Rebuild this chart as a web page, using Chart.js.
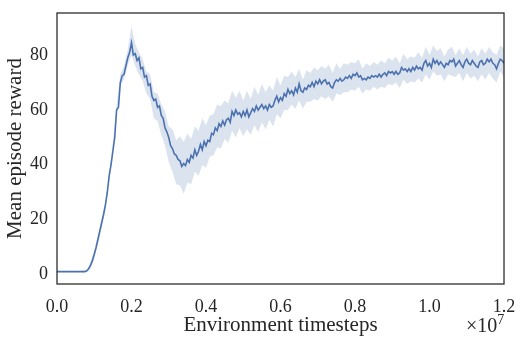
<!DOCTYPE html>
<html>
<head>
<meta charset="utf-8">
<script src="https://cdn.jsdelivr.net/npm/chart.js@4.4.1/dist/chart.umd.min.js"></script>
<style>
  html, body { margin: 0; padding: 0; background: #fff; }
  #wrap { width: 521px; height: 342px; }
</style>
</head>
<body>
<div id="wrap"><canvas id="chart"></canvas></div>
<script>
// mean reward, one value every 5e4 timesteps (0 .. 1.2e7)
const meanReward = [
  0.2, 0.2, 0.2, 0.2, 0.2, 0.2, 0.2, 0.2, 0.2, 0.2, 0.2, 0.2, 0.2, 0.2, 0.2, 0.2, 0.5, 1.2, 2.5, 4.2,
  6.5, 9, 12, 15, 18, 21, 24.5, 29, 35, 39, 44, 49, 59, 60, 69, 71.5, 72, 75, 78, 80,
  83.5, 79, 79.5, 77, 78, 74, 74.5, 71, 71.5, 68, 68.5, 64, 62.5, 63, 60, 60.5, 57, 56, 52.5, 51,
  49, 46, 45, 43, 42.5, 41, 40.5, 38.5, 39.5, 38.8, 41, 40, 42.5, 41.5, 44.5, 42.5, 44, 46.5, 44.5, 47.5,
  46, 48, 47.5, 50.5, 50, 52.5, 51.5, 54, 53, 55, 53.5, 55.5, 56, 54.5, 58.5, 57, 59, 57.5, 58, 56.5,
  58.5, 57, 59, 56.5, 58, 59.5, 58.5, 60.5, 59, 60, 61, 59.5, 60.5, 59, 61, 60, 60.5, 62.5, 64, 62,
  63.5, 62.5, 65, 64, 66.5, 65, 66, 64.5, 67, 65.5, 68.5, 66, 65.5, 67, 66.5, 68, 67.5, 69, 67.5, 69.5,
  68.5, 70, 68.5, 69.5, 70, 68.5, 69, 67.5, 67, 69, 70, 69.5, 70.5, 69.5, 70, 71, 70.5, 71.5, 70.5, 72,
  71.5, 72.5, 71, 71.5, 70, 70.5, 70, 71, 70.5, 71.5, 71, 71.5, 71, 72, 71, 72, 72.5, 71.5, 73, 72.5,
  73, 72, 73, 72, 72.5, 74.5, 73.5, 74, 73, 74, 73, 74.5, 73.5, 75, 74, 74.5, 73.5, 76, 77, 75,
  76, 74.5, 77.5, 76, 77, 75.5, 76.5, 75.5, 74.5, 76, 75.5, 77, 76.5, 77.5, 75, 76, 77, 75.5, 74.5, 76.5,
  77.5, 76, 75.5, 77, 76, 75, 74.5, 76.5, 77, 75.5, 76, 77.5, 76.5, 77.5, 76, 75.5, 74, 76, 77.5, 77,
  76
];
// spread band, one value every 1e5 timesteps
const lowerBand = [
  0, 0, 0, 0, 0, 0, 0, 0, 0.2, 1.5,
  5, 10.5, 16.5, 22.5, 32.5, 44.5, 57, 68, 70, 75.5,
  79, 75, 72, 69.5, 65, 63, 56, 55, 50, 46,
  40, 36.5, 32, 31.5, 28.5, 32.5, 32, 36.5, 35, 39,
  38, 42, 42.5, 45.5, 45, 48.5, 47, 51.5, 49, 52.5,
  49.5, 52, 50, 53.5, 51, 54.5, 52, 55.5, 53, 57.5,
  56, 59, 59, 61, 59.5, 62.5, 59.5, 62, 62, 63,
  62.5, 64, 63, 64, 62, 65, 64.5, 65.5, 65.5, 66.5,
  66, 67.5, 65, 66.5, 66, 67.5, 66.5, 67.5, 67, 68.5,
  68, 69, 67, 70, 68.5, 69.5, 69, 70.5, 69, 72,
  70, 73, 71.5, 72, 69.5, 72, 71.5, 71, 72.5, 69.5,
  72.5, 70.5, 71.5, 69.5, 72, 70, 72.5, 70.5, 69, 73,
  71
];
const upperBand = [
  0.4, 0.4, 0.4, 0.4, 0.4, 0.4, 0.4, 0.6, 1.0, 3.5,
  8, 13.5, 19.5, 25.5, 35.5, 47.5, 61, 72, 75, 81,
  89.5, 83, 80, 77.5, 73, 72, 65.5, 65, 61, 58.5,
  53, 52, 48, 49.5, 47.5, 50.5, 48.5, 53, 51.5, 56,
  53.5, 57, 57.5, 61, 60.5, 62.5, 61.5, 66, 63.5, 66,
  62.5, 66, 63, 67.5, 64.5, 68.5, 65.5, 68, 66, 71,
  68, 71.5, 71, 73, 71, 74, 70, 73.5, 72.5, 74.5,
  73.5, 75, 74, 75.5, 72.5, 76, 74, 76, 75.5, 76.5,
  76, 77.5, 74, 76, 75, 76.5, 75.5, 77, 76, 78,
  77, 78.5, 76, 79.5, 77.5, 78.5, 78, 80, 78, 82,
  79, 82.5, 80.5, 81.5, 78.5, 81, 82, 79, 81.5, 79,
  82, 79.5, 81, 78.5, 81.5, 79.5, 82, 80, 79, 82.5,
  81.5
];
const meanSteps = meanReward.map((_, i) => i * 5e4);
const bandSteps = upperBand.map((_, i) => i * 1e5);
const xTicks = [0, 2e6, 4e6, 6e6, 8e6, 1e7, 1.2e7];
const yTicks = [0, 20, 40, 60, 80];

const FONT = "'Liberation Serif', 'DejaVu Serif', serif";
const INK = "#262626";
const BLUE = "#4c72b0";
const pts = (xs, ys) => ys.map((v, i) => ({ x: xs[i], y: v }));

const frame = {
  id: "frame",
  afterDraw(chart) {
    const { ctx, chartArea: a } = chart;
    ctx.save();
    ctx.strokeStyle = INK;
    ctx.lineWidth = 1.25;
    ctx.strokeRect(a.left, a.top, a.right - a.left, a.bottom - a.top);
    // offset text under the x axis
    ctx.fillStyle = INK;
    ctx.textBaseline = "alphabetic";
    ctx.textAlign = "left";
    ctx.font = "20px " + FONT;
    ctx.fillText("\u00d710", 466, 332);
    const w = ctx.measureText("\u00d710").width;
    ctx.font = "14px " + FONT;
    ctx.fillText("7", 466 + w, 324);
    ctx.restore();
  },
};

new Chart(document.getElementById("chart"), {
  type: "line",
  data: {
    datasets: [
      {
        data: pts(bandSteps, upperBand),
        borderWidth: 0,
        pointRadius: 0,
        backgroundColor: "rgba(76,114,176,0.2)",
        fill: "+1",
      },
      {
        data: pts(bandSteps, lowerBand),
        borderWidth: 0,
        pointRadius: 0,
        fill: false,
      },
      {
        data: pts(meanSteps, meanReward),
        borderColor: BLUE,
        borderWidth: 1.6,
        pointRadius: 0,
        fill: false,
      },
    ],
  },
  options: {
    responsive: true,
    maintainAspectRatio: false,
    animation: false,
    layout: { padding: { top: 13, right: 17, left: 0, bottom: 0 } },
    plugins: { legend: { display: false }, tooltip: { enabled: false } },
    scales: {
      x: {
        type: "linear",
        min: 0,
        max: 1.2e7,
        grid: { display: false, drawTicks: false },
        border: { display: false },
        afterBuildTicks: (s) => { s.ticks = xTicks.map((v) => ({ value: v })); },
        afterFit: (s) => {
          s.height = 58;
          s.paddingLeft = 0;
          s.paddingRight = 0;
        },
        ticks: {
          padding: 12,
          color: INK,
          font: { family: FONT, size: 18 },
          maxRotation: 0,
          callback: (v) => (v / 1e7).toFixed(1),
        },
        title: {
          display: true,
          text: "Environment timesteps",
          color: INK,
          font: { family: FONT, size: 21 },
          padding: { top: 0, bottom: 4 },
        },
      },
      y: {
        min: -4.3,
        max: 94.3,
        grid: { display: false, drawTicks: false },
        border: { display: false },
        afterBuildTicks: (s) => { s.ticks = yTicks.map((v) => ({ value: v })); },
        afterFit: (s) => {
          s.width = 57;
          s.paddingTop = 0;
          s.paddingBottom = 0;
        },
        ticks: {
          padding: 9,
          labelOffset: 2.5,
          color: INK,
          font: { family: FONT, size: 18 },
        },
        title: {
          display: true,
          text: "Mean episode reward",
          color: INK,
          font: { family: FONT, size: 21 },
          padding: { top: 3, bottom: 0 },
        },
      },
    },
  },
  plugins: [frame],
});
</script>
</body>
</html>
